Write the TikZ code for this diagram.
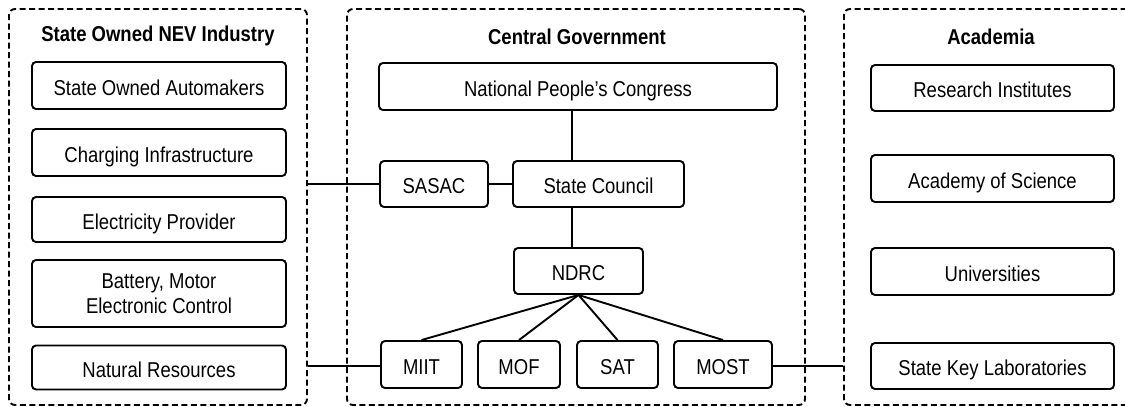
\documentclass[tikz,border=0pt]{standalone}
\usepackage{fontspec}
\setmainfont{Liberation Sans}[FakeStretch=0.86]
\begin{document}
\begin{tikzpicture}[x=1pt,y=-1pt,
  box/.style={draw, line width=1.9pt, rounded corners=4pt, inner sep=0pt, align=center,
    font=\fontsize{21.5}{25}\selectfont, minimum height=46pt, text height=19pt, text depth=0pt},
  box2/.style={box, text height=, text depth=},
  panel/.style={draw, line width=1.9pt, dash pattern=on 6pt off 3.5pt, rounded corners=6pt, inner sep=0pt,
    minimum height=396pt},
  ttl/.style={font=\bfseries\fontsize{21.5}{25}\selectfont, inner sep=0pt},
  link/.style={line width=1.9pt}]
\useasboundingbox (0,0) rectangle (1125,407);
\clip (0,0) rectangle (1125,407);
% panels
\node[panel, minimum width=298pt] (lp) at (158,207) {};
\node[panel, minimum width=458pt] (cp) at (576,207) {};
\node[panel, minimum width=298pt] (ap) at (993,207) {};
% titles
\node[ttl] (lt) at (158,36) {State Owned NEV Industry};
\node[ttl] (ct) at (577,37) {Central Government};
\node[ttl] (at) at (991,37) {Academia};
% left boxes
\node[box, minimum width=254pt, minimum height=47pt] (sa) at (159,85.5) {State Owned Automakers};
\node[box, minimum width=254pt, minimum height=47pt] (ci) at (159,152.5) {Charging Infrastructure};
\node[box, minimum width=254pt, minimum height=45pt] (ep) at (159,219.5) {Electricity Provider};
\node[box2, minimum width=254pt, minimum height=67pt] (bm) at (159,293.5) {Battery, Motor\\Electronic Control};
\node[box, minimum width=254pt, minimum height=44pt] (nr) at (159,367.5) {Natural Resources};
% central boxes
\node[box, minimum width=398pt, minimum height=47pt] (npc) at (578,86.5) {National People's Congress};
\node[box, minimum width=108pt] (sasac) at (434,184) {SASAC};
\node[box, minimum width=171pt] (sc) at (598.5,184) {State Council};
\node[box, minimum width=129pt] (ndrc) at (578.5,271) {NDRC};
\node[box, minimum width=81pt, minimum height=47pt] (miit) at (421.5,364.5) {MIIT};
\node[box, minimum width=82pt, minimum height=47pt] (mof) at (519,364.5) {MOF};
\node[box, minimum width=81pt, minimum height=47pt] (sat) at (617.5,364.5) {SAT};
\node[box, minimum width=98pt, minimum height=47pt] (most) at (723,364.5) {MOST};
% academia boxes
\node[box, minimum width=243pt] (ri) at (992.5,88) {Research Institutes};
\node[box, minimum width=243pt, minimum height=47pt] (as) at (992.5,178.5) {Academy of Science};
\node[box, minimum width=243pt, minimum height=47pt] (un) at (992.5,271.5) {Universities};
\node[box, minimum width=243pt] (skl) at (992.5,366) {State Key Laboratories};
% connectors
\draw[link] (sasac.west -| lp.east) -- (sasac.west);
\draw[link] (sasac.east) -- (sc.west);
\draw[link] ([xshift=-6pt]npc.south) -- ([xshift=-6pt]npc.south |- sc.north);
\draw[link] ([xshift=-26.5pt]sc.south) -- ([xshift=-26.5pt]sc.south |- ndrc.north);
\draw[link] (ndrc.south) -- (miit.north);
\draw[link] (ndrc.south) -- (mof.north);
\draw[link] (ndrc.south) -- (sat.north);
\draw[link] (ndrc.south) -- (most.north);
\draw[link] ([yshift=-1.5pt]miit.west -| lp.east) -- ([yshift=-1.5pt]miit.west);
\draw[link] ([yshift=-1.5pt]most.east) -- ([yshift=-1.5pt]most.east -| ap.west);
\end{tikzpicture}
\end{document}
